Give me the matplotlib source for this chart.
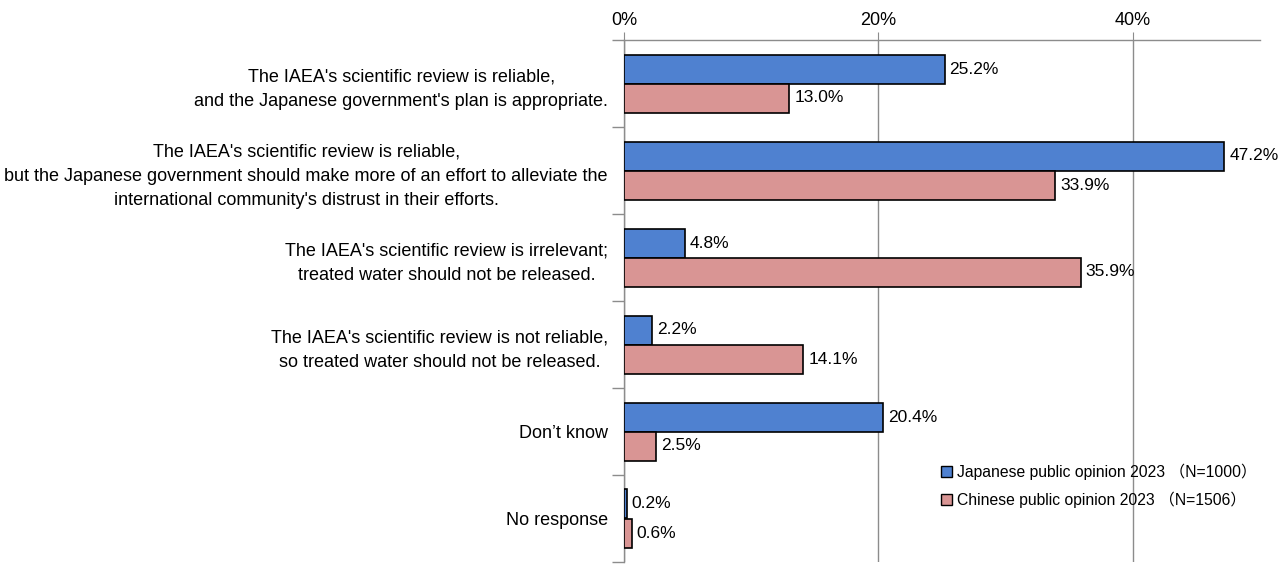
import numpy as np
import matplotlib.pyplot as plt
from matplotlib.patches import Patch

plt.rcParams['font.family'] = ['Liberation Sans', 'Noto Sans CJK JP', 'DejaVu Sans']

categories = [
    "The IAEA's scientific review is reliable,\nand the Japanese government's plan is appropriate.",
    "The IAEA's scientific review is reliable,\nbut the Japanese government should make more of an effort to alleviate the\ninternational community's distrust in their efforts.",
    "The IAEA's scientific review is irrelevant;\ntreated water should not be released.",
    "The IAEA's scientific review is not reliable,\nso treated water should not be released.",
    "Don\u2019t know",
    "No response",
]
japan = [25.2, 47.2, 4.8, 2.2, 20.4, 0.2]
china = [13.0, 33.9, 35.9, 14.1, 2.5, 0.6]
series_names = ["Japanese public opinion 2023 \uff08N=1000\uff09",
                "Chinese public opinion 2023 \uff08N=1506\uff09"]
xticks = [0, 20, 40]

blue = '#4F81D0'
pink = '#D99594'
gray = '#8C8C8C'

fig = plt.figure(figsize=(12.82, 5.65), dpi=100)
ax = fig.add_axes([624 / 1282, 3 / 565, 636 / 1282, 522 / 565])

y = np.arange(len(categories))
h = 1 / 3
ax.barh(y - h / 2, japan, height=h, color=blue, edgecolor='black', linewidth=1.2, zorder=3)
ax.barh(y + h / 2, china, height=h, color=pink, edgecolor='black', linewidth=1.2, zorder=3)

for yi, v in zip(y, japan):
    ax.annotate(f"{v:.1f}%", (v, yi - h / 2), xytext=(3.5, 0), textcoords='offset points',
                va='center', ha='left', fontsize=12.5)
for yi, v in zip(y, china):
    ax.annotate(f"{v:.1f}%", (v, yi + h / 2), xytext=(3.5, 0), textcoords='offset points',
                va='center', ha='left', fontsize=12.5)

ax.set_xlim(0, 50)
ax.set_ylim(len(categories) - 0.5, -0.5)

ax.xaxis.tick_top()
ax.set_xticks(xticks)
ax.set_xticklabels([f"{t}%" for t in xticks], fontsize=13)
ax.tick_params(axis='x', length=6, color=gray, pad=2)
ax.grid(axis='x', color=gray, linewidth=1, zorder=0)

ax.set_yticks(y)
ax.set_yticklabels(categories, fontsize=13, ha='center', linespacing=1.55)
ax.tick_params(axis='y', which='major', length=0, pad=0)
ax.set_yticks(np.arange(-0.5, len(categories)), minor=True)
ax.tick_params(axis='y', which='minor', length=9, color=gray, width=1)

for s in ['right', 'bottom']:
    ax.spines[s].set_visible(False)
for s in ['top', 'left']:
    ax.spines[s].set_color(gray)
    ax.spines[s].set_linewidth(1)

fig.canvas.draw()
# center multi-line labels and right-align the block near the axis
renderer = fig.canvas.get_renderer()
for lab in ax.get_yticklabels():
    w = lab.get_window_extent(renderer).width
    lab.set_horizontalalignment('center')
    x_ax = (608 - w / 2 - 624) / 636
    lab.set_transform(ax.get_yaxis_transform())
    lab.set_position((x_ax, lab.get_position()[1]))

handles = [Patch(facecolor=blue, edgecolor='black'), Patch(facecolor=pink, edgecolor='black')]
fig.legend(handles, series_names, loc='upper left', bbox_to_anchor=(935 / 1282, 1 - 457 / 565),
           frameon=False, fontsize=11.3, handlelength=0.7, handleheight=0.7,
           handletextpad=0.3, labelspacing=0.75, borderaxespad=0)

fig.savefig('out.png', dpi=100)
